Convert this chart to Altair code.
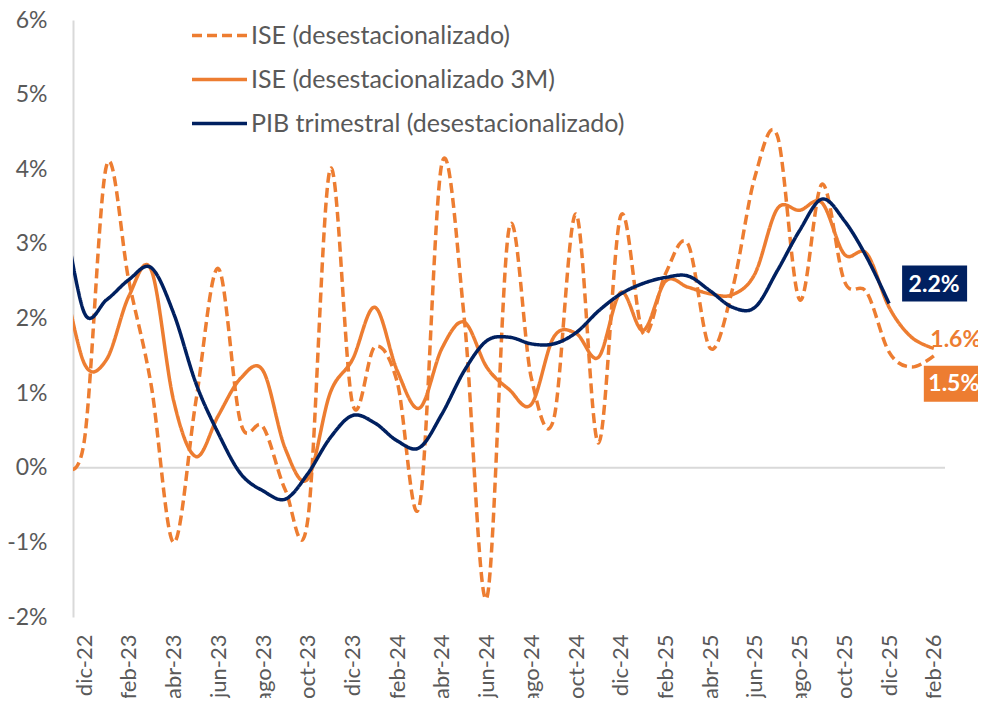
import altair as alt
import pandas as pd

months = ["nov-22", "dic-22", "ene-23", "feb-23", "mar-23", "abr-23", "may-23", "jun-23",
          "jul-23", "ago-23", "sep-23", "oct-23", "nov-23", "dic-23", "ene-24", "feb-24",
          "mar-24", "abr-24", "may-24", "jun-24", "jul-24", "ago-24", "sep-24", "oct-24",
          "nov-24", "dic-24", "ene-25", "feb-25", "mar-25", "abr-25", "may-25", "jun-25",
          "jul-25", "ago-25", "sep-25", "oct-25", "nov-25", "dic-25", "ene-26", "feb-26"]

ise = [0.1, 0.35, 4.05, 2.5, 1.1, -1.0, 0.9, 2.67, 0.6, 0.55,
       -0.3, -0.7, 4.0, 0.86, 1.62, 1.15, -0.5, 4.08, 2.0, -1.75,
       3.2, 1.2, 0.65, 3.4, 0.33, 3.38, 1.8, 2.6, 3.0, 1.6,
       2.4, 3.9, 4.45, 2.25, 3.8, 2.5, 2.35, 1.55, 1.35, 1.5]

ise3m = [2.7, 1.4, 1.45, 2.3, 2.65, 0.9, 0.15, 0.7, 1.2, 1.3,
         0.25, -0.15, 1.0, 1.45, 2.15, 1.3, 0.8, 1.6, 1.95, 1.35,
         1.05, 0.85, 1.75, 1.8, 1.48, 2.35, 1.84, 2.5, 2.42, 2.33,
         2.32, 2.6, 3.47, 3.45, 3.55, 2.86, 2.87, 2.15, 1.75, 1.6]

pib = [3.6, 2.08, 2.25, 2.52, 2.68, 2.07, 1.13, 0.46, -0.08, -0.31,
       -0.42, -0.08, 0.4, 0.7, 0.6, 0.36, 0.27, 0.72, 1.3, 1.7,
       1.75, 1.66, 1.66, 1.81, 2.1, 2.33, 2.47, 2.55, 2.57, 2.37,
       2.15, 2.15, 2.64, 3.18, 3.6, 3.31, 2.82, 2.2]

S1 = "ISE (desestacionalizado)"
S2 = "ISE (desestacionalizado 3M)"
S3 = "PIB trimestral (desestacionalizado)"
series_names = [S1, S2, S3]

ORANGE = "#ED7D31"
NAVY = "#002060"
GRAY = "#595959"
FONT = "Lato"

rows = []
for name, vals in [(S1, ise), (S2, ise3m), (S3, pib)]:
    for k, v in enumerate(vals):
        rows.append({"i": k - 1, "month": months[k], "value": v, "series": name})
df = pd.DataFrame(rows)

tick_labels = months[1::2]
tick_values = list(range(0, 39, 2))
label_expr = "[" + ",".join("'" + t + "'" for t in tick_labels) + "][round(datum.value / 2)]"

x_enc = alt.X(
    "i:Q",
    scale=alt.Scale(domain=[-0.5, 38.5], nice=False, zero=False),
    axis=alt.Axis(values=tick_values, labelExpr=label_expr, labelAngle=270,
                  labelFontSize=22, labelColor=GRAY, labelFont=FONT,
                  ticks=False, domain=False, grid=False, labelPadding=17, title=None),
)
y_enc = alt.Y(
    "value:Q",
    scale=alt.Scale(domain=[-2, 6], nice=False),
    axis=alt.Axis(values=list(range(-2, 7)), labelExpr="datum.value + '%'",
                  ticks=False, grid=False, domain=True, domainColor="#D9D9D9",
                  domainWidth=2, labelPadding=26, labelFontSize=23,
                  labelColor=GRAY, labelFont=FONT, title=None),
)

legend = alt.Legend(title=None, orient="none", legendX=117, legendY=-14,
                    symbolType="stroke", symbolSize=3025, symbolStrokeWidth=3.5,
                    labelFontSize=25, labelColor=GRAY, labelFont=FONT, labelLimit=0,
                    labelOffset=2, rowPadding=1, padding=0)

lines = alt.Chart(df).mark_line(interpolate="cardinal", strokeWidth=3.5, clip=True).encode(
    x=x_enc,
    y=y_enc,
    color=alt.Color("series:N", scale=alt.Scale(domain=series_names, range=[ORANGE, ORANGE, NAVY]),
                    legend=legend),
    strokeDash=alt.StrokeDash("series:N", scale=alt.Scale(domain=series_names, range=[[10, 5], [1, 0], [1, 0]]),
                              legend=legend),
    order="i:Q",
)

zero = alt.Chart(pd.DataFrame({"z": [0]})).mark_rule(color="#D9D9D9", strokeWidth=2).encode(
    y=alt.Y("z:Q", scale=alt.Scale(domain=[-2, 6], nice=False))
)

ann = pd.DataFrame({
    "i": [36, 38, 38],
    "value": [pib[-1], ise3m[-1], ise[-1]],
    "series": [S3, S2, S1],
})
ann["label"] = ann["value"].map(lambda v: f"{v:.1f}%")

pib_ann = alt.Chart(ann[ann.series == S3])
ise_ann = alt.Chart(ann[ann.series == S1])
m3_ann = alt.Chart(ann[ann.series == S2])

pib_box = pib_ann.mark_rect(color=NAVY, xOffset=13, x2Offset=78, yOffset=-38, y2Offset=-2).encode(
    x="i:Q", x2="i", y="value:Q", y2="value")
pib_txt = pib_ann.mark_text(color="white", fontWeight="bold", fontSize=23, font=FONT,
                            dx=45, dy=-19, align="center", baseline="middle").encode(
    x="i:Q", y="value:Q", text="label:N")
ise_box = ise_ann.mark_rect(color=ORANGE, xOffset=-10, x2Offset=56, yOffset=10, y2Offset=46).encode(
    x="i:Q", x2="i", y="value:Q", y2="value")
ise_txt = ise_ann.mark_text(color="white", fontWeight="bold", fontSize=23, font=FONT,
                            dx=20, dy=28, align="center", baseline="middle").encode(
    x="i:Q", y="value:Q", text="label:N")
m3_txt = m3_ann.mark_text(color=ORANGE, fontWeight="bold", fontSize=23, font=FONT,
                          dx=22, dy=-8, align="center", baseline="middle").encode(
    x="i:Q", y="value:Q", text="label:N")

chart = alt.layer(zero, lines, pib_box, pib_txt, ise_box, ise_txt, m3_txt).properties(
    width=872, height=597,
    padding={"left": 65, "top": 12, "right": 33, "bottom": 81},
    autosize=alt.AutoSizeParams(type="none"),
    background="white",
).configure_view(stroke=None)

chart.save("out.html", embed_options={"renderer": "svg", "actions": False})
